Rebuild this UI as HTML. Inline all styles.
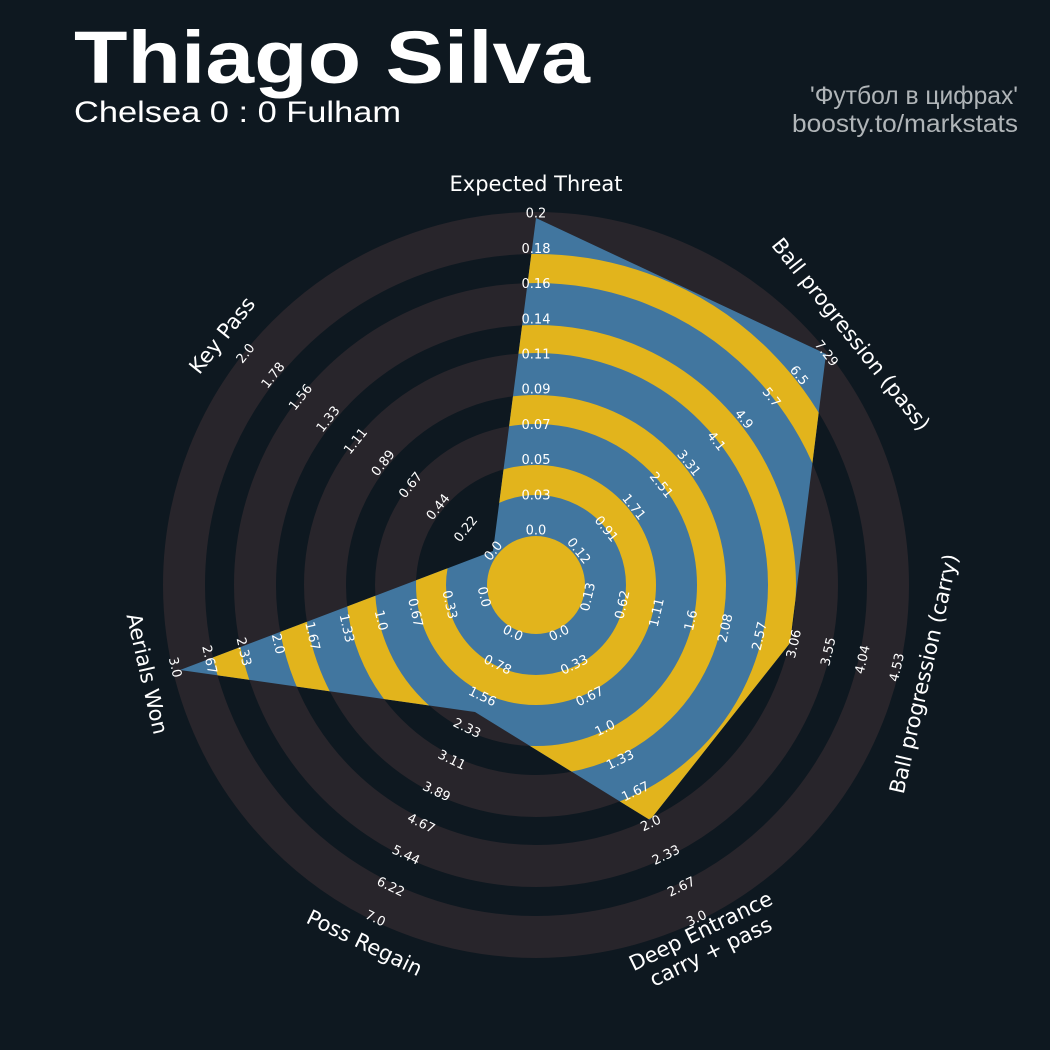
<!DOCTYPE html>
<html><head><meta charset="utf-8"><style>
html,body{margin:0;padding:0;background:#0e1820;}
svg{display:block}
</style></head><body>
<svg width="1050" height="1050" viewBox="0 0 1050 1050" xmlns="http://www.w3.org/2000/svg" font-family="DejaVu Sans, Liberation Sans, sans-serif">
<rect width="1050" height="1050" fill="#0e1820"/>
<text x="74" y="83" font-family="Liberation Sans, sans-serif" font-weight="bold" font-size="74" fill="#fff" textLength="516" lengthAdjust="spacingAndGlyphs">Thiago Silva</text>
<text x="74" y="122" font-family="Liberation Sans, sans-serif" font-size="30" fill="#fff" textLength="327" lengthAdjust="spacingAndGlyphs">Chelsea 0 : 0 Fulham</text>
<text x="1018" y="104" font-family="Liberation Sans, DejaVu Sans, sans-serif" font-size="25" fill="#b0b5b8" text-anchor="end" textLength="208" lengthAdjust="spacingAndGlyphs">'Футбол в цифрах'</text>
<text x="1018" y="132" font-family="Liberation Sans, DejaVu Sans, sans-serif" font-size="25" fill="#b0b5b8" text-anchor="end" textLength="226" lengthAdjust="spacingAndGlyphs">boosty.to/markstats</text>
<defs><clipPath id="cp"><polygon points="536,218 826,354 790,643 650,820 475,712 180,670 493,551"/></clipPath></defs>
<g fill="none" stroke="#28252b">
<circle cx="536" cy="585" r="140.5" stroke-width="41"/>
<circle cx="536" cy="585" r="211" stroke-width="42"/>
<circle cx="536" cy="585" r="281" stroke-width="42"/>
<circle cx="536" cy="585" r="352" stroke-width="42"/>
</g>
<polygon points="536,218 826,354 790,643 650,820 475,712 180,670 493,551" fill="#41769f"/>
<g clip-path="url(#cp)" fill="none" stroke="#e2b41c">
<circle cx="536" cy="585" r="105" stroke-width="30"/>
<circle cx="536" cy="585" r="175.5" stroke-width="29"/>
<circle cx="536" cy="585" r="246" stroke-width="28"/>
<circle cx="536" cy="585" r="316.5" stroke-width="29"/>
</g>
<circle cx="536" cy="585" r="49" fill="#e2b41c"/>
<g fill="#fff" font-size="13" text-anchor="middle" dominant-baseline="middle">
<text x="536" y="531">0.0</text>
<text x="536" y="495.8">0.03</text>
<text x="536" y="460.6">0.05</text>
<text x="536" y="425.4">0.07</text>
<text x="536" y="390.2">0.09</text>
<text x="536" y="355">0.11</text>
<text x="536" y="319.8">0.14</text>
<text x="536" y="284.6">0.16</text>
<text x="536" y="249.4">0.18</text>
<text x="536" y="214.2">0.2</text>

<text transform="translate(578.2,551.3) rotate(51.43)">0.12</text>
<text transform="translate(605.7,529.4) rotate(51.43)">0.91</text>
<text transform="translate(633.3,507.4) rotate(51.43)">1.71</text>
<text transform="translate(660.8,485.5) rotate(51.43)">2.51</text>
<text transform="translate(688.3,463.5) rotate(51.43)">3.31</text>
<text transform="translate(715.8,441.6) rotate(51.43)">4.1</text>
<text transform="translate(743.3,419.6) rotate(51.43)">4.9</text>
<text transform="translate(770.9,397.7) rotate(51.43)">5.7</text>
<text transform="translate(798.4,375.8) rotate(51.43)">6.5</text>
<text transform="translate(825.9,353.8) rotate(51.43)">7.29</text>

<text transform="translate(588.6,597) rotate(-77.14)">0.13</text>
<text transform="translate(623,604.8) rotate(-77.14)">0.62</text>
<text transform="translate(657.3,612.7) rotate(-77.14)">1.11</text>
<text transform="translate(691.6,620.5) rotate(-77.14)">1.6</text>
<text transform="translate(725.9,628.3) rotate(-77.14)">2.08</text>
<text transform="translate(760.2,636.2) rotate(-77.14)">2.57</text>
<text transform="translate(794.5,644) rotate(-77.14)">3.06</text>
<text transform="translate(828.9,651.8) rotate(-77.14)">3.55</text>
<text transform="translate(863.2,659.7) rotate(-77.14)">4.04</text>
<text transform="translate(897.5,667.5) rotate(-77.14)">4.53</text>

<text transform="translate(559.4,633.7) rotate(-25.71)">0.0</text>
<text transform="translate(574.7,665.4) rotate(-25.71)">0.33</text>
<text transform="translate(590,697.1) rotate(-25.71)">0.67</text>
<text transform="translate(605.3,728.8) rotate(-25.71)">1.0</text>
<text transform="translate(620.5,760.5) rotate(-25.71)">1.33</text>
<text transform="translate(635.8,792.2) rotate(-25.71)">1.67</text>
<text transform="translate(651.1,823.9) rotate(-25.71)">2.0</text>
<text transform="translate(666.3,855.7) rotate(-25.71)">2.33</text>
<text transform="translate(681.6,887.4) rotate(-25.71)">2.67</text>
<text transform="translate(696.9,919.1) rotate(-25.71)">3.0</text>

<text transform="translate(512.6,633.7) rotate(25.71)">0.0</text>
<text transform="translate(497.3,665.4) rotate(25.71)">0.78</text>
<text transform="translate(482,697.1) rotate(25.71)">1.56</text>
<text transform="translate(466.7,728.8) rotate(25.71)">2.33</text>
<text transform="translate(451.5,760.5) rotate(25.71)">3.11</text>
<text transform="translate(436.2,792.2) rotate(25.71)">3.89</text>
<text transform="translate(420.9,823.9) rotate(25.71)">4.67</text>
<text transform="translate(405.7,855.7) rotate(25.71)">5.44</text>
<text transform="translate(390.4,887.4) rotate(25.71)">6.22</text>
<text transform="translate(375.1,919.1) rotate(25.71)">7.0</text>

<text transform="translate(483.4,597) rotate(77.14)">0.0</text>
<text transform="translate(449,604.8) rotate(77.14)">0.33</text>
<text transform="translate(414.7,612.7) rotate(77.14)">0.67</text>
<text transform="translate(380.4,620.5) rotate(77.14)">1.0</text>
<text transform="translate(346.1,628.3) rotate(77.14)">1.33</text>
<text transform="translate(311.8,636.2) rotate(77.14)">1.67</text>
<text transform="translate(277.5,644) rotate(77.14)">2.0</text>
<text transform="translate(243.1,651.8) rotate(77.14)">2.33</text>
<text transform="translate(208.8,659.7) rotate(77.14)">2.67</text>
<text transform="translate(174.5,667.5) rotate(77.14)">3.0</text>

<text transform="translate(493.8,551.3) rotate(-51.43)">0.0</text>
<text transform="translate(466.3,529.4) rotate(-51.43)">0.22</text>
<text transform="translate(438.7,507.4) rotate(-51.43)">0.44</text>
<text transform="translate(411.2,485.5) rotate(-51.43)">0.67</text>
<text transform="translate(383.7,463.5) rotate(-51.43)">0.89</text>
<text transform="translate(356.2,441.6) rotate(-51.43)">1.11</text>
<text transform="translate(328.7,419.6) rotate(-51.43)">1.33</text>
<text transform="translate(301.1,397.7) rotate(-51.43)">1.56</text>
<text transform="translate(273.6,375.8) rotate(-51.43)">1.78</text>
<text transform="translate(246.1,353.8) rotate(-51.43)">2.0</text>
</g>
<g fill="#fff" font-size="21" text-anchor="middle" dominant-baseline="middle">
<text x="536" y="185">Expected Threat</text>
<text transform="translate(850,335) rotate(51.4)">Ball progression (pass)</text>
<text transform="translate(925,674) rotate(-77.1)">Ball progression (carry)</text>
<text transform="translate(706,942) rotate(-25.7)"><tspan x="0" dy="-11">Deep Entrance</tspan><tspan x="0" dy="23">carry + pass</tspan></text>
<text transform="translate(364,944) rotate(25.7)">Poss Regain</text>
<text transform="translate(146,674) rotate(77.1)">Aerials Won</text>
<text transform="translate(223,336) rotate(-51.4)">Key Pass</text>
</g>
</svg>
</body></html>
